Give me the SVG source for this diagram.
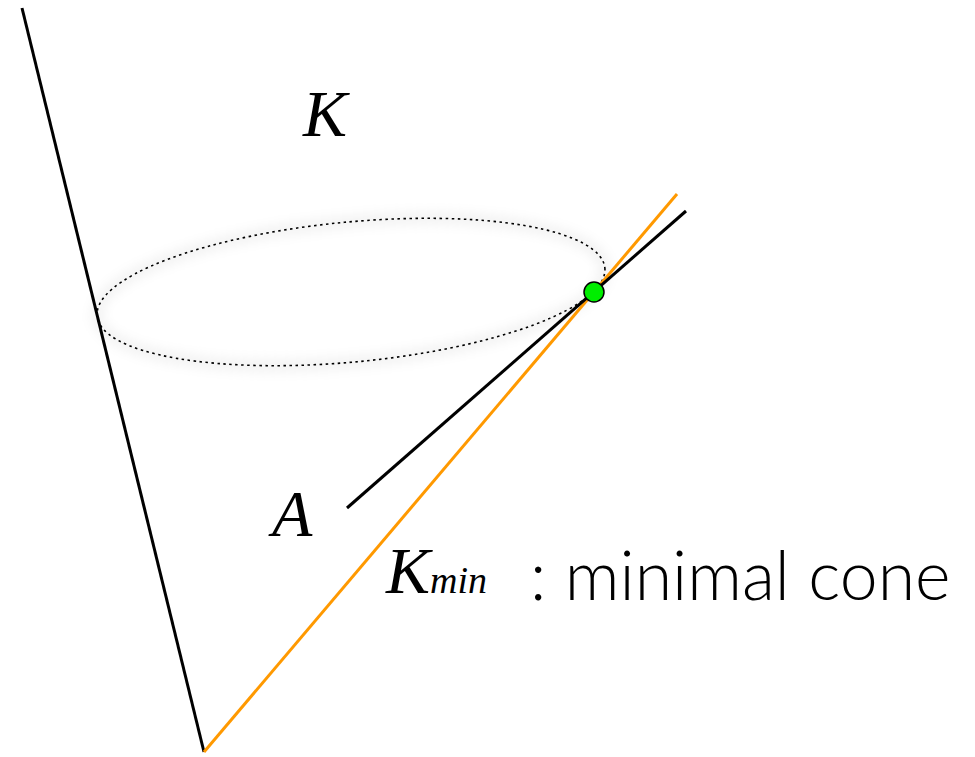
<svg xmlns="http://www.w3.org/2000/svg" width="975" height="757" viewBox="0 0 975 757">
<style>
.math{font-family:"Liberation Serif","DejaVu Serif",serif;font-style:italic;fill:#000}
.txt{font-family:"Lato","Open Sans",sans-serif;font-weight:300;fill:#000}
</style>
<defs>
<filter id="sh" x="-10%" y="-30%" width="120%" height="160%"><feGaussianBlur stdDeviation="6"/></filter>
</defs>
<rect width="975" height="757" fill="#fff"/>
<g id="connectors">
<ellipse cx="351" cy="292" rx="255" ry="70" transform="rotate(-5.4 351 292)" fill="none" stroke="#000" stroke-opacity="0.06" stroke-width="10" filter="url(#sh)"/>
<ellipse id="ellipse" cx="351" cy="292" rx="255" ry="70" transform="rotate(-5.4 351 292)" fill="none" stroke="#000" stroke-width="1.6" stroke-dasharray="2.5,3.5"/>
<line id="cone-left" x1="22" y1="8" x2="204" y2="752" stroke="#000" stroke-width="3"/>
<line id="cone-min" x1="204" y1="752" x2="677" y2="194" stroke="#FF9900" stroke-width="3"/>
<line id="ray-A" x1="347" y1="508" x2="686" y2="211" stroke="#000" stroke-width="3"/>
</g>
<g id="point"><circle cx="594" cy="292" r="10" fill="#00EE00" stroke="#000" stroke-width="1.5"/></g>
<g id="label-K"><text class="math" x="303" y="136" font-size="66">K</text></g>
<g id="label-A"><text class="math" x="272" y="536" font-size="66">A</text></g>
<g id="label-Kmin"><text class="math" x="386" y="593" font-size="66">K<tspan font-size="38">min</tspan></text>
<text class="txt" x="530" y="600" font-size="68">: minimal cone</text></g>
</svg>
